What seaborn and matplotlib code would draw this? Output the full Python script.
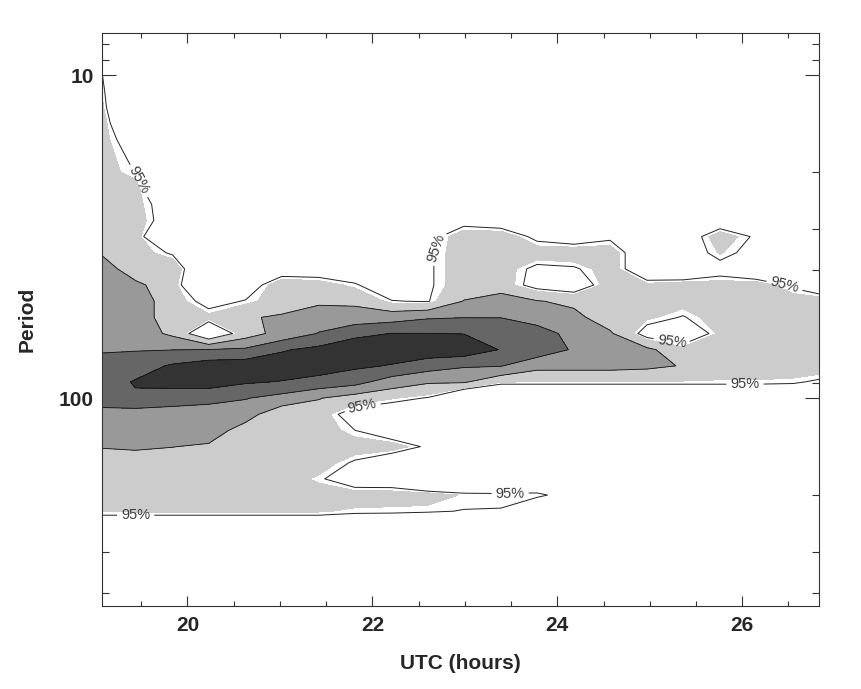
import numpy as np
import matplotlib
matplotlib.use("Agg")
import matplotlib.pyplot as plt
from matplotlib.ticker import FixedLocator, FixedFormatter, NullFormatter
import seaborn as sns

# ---------------- data ----------------
# sample times (UTC hours) of the wavelet power grid
utc_hours = [19.05, 19.44, 19.84, 20.23, 20.63, 21.02, 21.42, 21.81, 22.21, 22.60,
             22.99, 23.39, 23.78, 24.18, 24.57, 24.97, 25.36, 25.76, 26.15, 26.55, 26.94]
# sample periods, as log10(period)
log10_period = [0.85, 0.90, 0.95, 1.00, 1.05, 1.10, 1.15, 1.20, 1.25, 1.30,
                1.35, 1.40, 1.45, 1.50, 1.55, 1.60, 1.65, 1.70, 1.75, 1.80,
                1.85, 1.90, 1.95, 2.00, 2.05, 2.10, 2.15, 2.20, 2.25, 2.30,
                2.35, 2.40, 2.45, 2.50, 2.55, 2.60, 2.65]
# normalised wavelet power (power / 95% significance level); one list per time sample,
# values ordered from the shortest to the longest period
power_by_time = [
    [0.5, 0.5, 0.6, 1.17, 1.33, 1.47, 1.64, 1.48, 1.5, 1.5, 1.5, 1.5, 1.5, 1.5, 1.97, 2.5, 2.5, 2.5, 2.5, 2.5, 2.87, 3.5, 3.43, 3.64, 2.5, 2.5, 2.05, 1.5, 1.5, 1.5, 1.22, 0.3, 0.5, 0.5, 0.5, 0.5, 0.5],
    [0.5, 0.5, 0.5, -1.0, -1.0, -1.0, -0.5, 0.48, 0.8, 0.98, 1.47, 1.38, 1.48, 1.56, 1.5, 1.5, 2.2, 2.5, 2.5, 2.5, 2.95, 3.5, 4.1, 3.82, 2.5, 2.5, 2.14, 1.5, 1.5, 1.5, 1.25, 0.2, 0.5, 0.5, 0.5, 0.5, 0.5],
    [0.5, 0.5, 0.5, 0.5, 0.5, 0.5, 0.5, 0.5, 0.5, 0.5, -1.0, 0.5, 0.5, -1.0, 0.89, 1.74, 1.47, 1.5, 1.5, 1.81, 2.98, 4.13, 4.31, 3.5, 2.5, 2.5, 2.02, 1.5, 1.5, 1.5, 1.25, 0.2, 0.5, 0.5, 0.5, 0.5, 0.5],
    [0.5, 0.5, 0.5, 0.5, 0.5, 0.5, 0.5, 0.5, 0.5, 0.5, 0.5, 0.5, 0.5, 0.5, 0.5, -0.5, -0.5, 0.71, 1.35, 0.0, 3.02, 4.55, 4.44, 3.29, 2.5, 2.5, 1.87, 1.5, 1.5, 1.5, 1.25, 0.2, 0.5, 0.5, 0.5, 0.5, 0.5],
    [0.5, 0.5, 0.5, 0.5, 0.5, 0.5, 0.5, 0.5, 0.5, 0.5, 0.5, 0.5, 0.5, 0.5, 0.5, 0.5, 0.5, 1.05, 1.9, 1.55, 3.16, 4.6, 4.1, 3.05, 2.4, 1.57, 1.5, 1.5, 1.5, 1.5, 1.25, 0.2, 0.5, 0.5, 0.5, 0.5, 0.5],
    [0.5, 0.5, 0.5, 0.5, 0.5, 0.5, 0.5, 0.5, 0.5, 0.5, 0.5, 0.5, 0.5, 0.5, 0.5, 0.5, 1.61, 1.5, 2.13, 2.37, 3.9, 4.57, 3.95, 2.63, 1.3, 1.5, 1.5, 1.5, 1.5, 1.5, 1.25, 0.2, 0.5, 0.5, 0.5, 0.5, 0.5],
    [0.5, 0.5, 0.5, 0.5, 0.5, 0.5, 0.5, 0.5, 0.5, 0.5, 0.5, 0.5, 0.5, 0.5, 0.5, 0.5, 1.48, 1.81, 2.6, 3.04, 4.27, 4.5, 3.64, 2.05, 1.5, 1.5, 1.5, 1.5, 1.1, 1.5, 1.25, 0.2, 0.5, 0.5, 0.5, 0.5, 0.5],
    [0.5, 0.5, 0.5, 0.5, 0.5, 0.5, 0.5, 0.5, 0.5, 0.5, 0.5, 0.5, 0.5, 0.5, 0.5, 0.5, 1.07, 1.8, 2.47, 3.7, 4.77, 4.17, 3.34, 1.55, 0.57, 1.01, 1.5, 0.9, 0.5, 1.48, 1.12, 0.2, 0.5, 0.5, 0.5, 0.5, 0.5],
    [0.5, 0.5, 0.5, 0.5, 0.5, 0.5, 0.5, 0.5, 0.5, 0.5, 0.5, 0.5, 0.5, 0.5, 0.5, 0.5, 0.5, 1.03, 2.59, 4.02, 4.5, 3.94, 2.5, 1.25, 0.3, 0.41, 1.5, 0.25, 0.5, 1.45, 1.1, 0.2, 0.5, 0.5, 0.5, 0.5, 0.5],
    [0.5, 0.5, 0.5, 0.5, 0.5, 0.5, 0.5, 0.5, 0.5, 0.5, 0.5, 0.5, 0.5, 0.7, 0.9, 0.9, 0.9, 0.95, 2.9, 4.01, 4.6, 3.44, 2.1, 0.95, 0.5, 0.5, 0.87, 0.5, -0.35, 1.45, 1.05, 0.2, 0.5, 0.5, 0.5, 0.5, 0.5],
    [0.5, 0.5, 0.5, 0.5, 0.5, 0.5, 0.5, 0.5, 0.5, 0.5, 0.5, 0.5, 0.7, 1.56, 1.5, 1.5, 1.5, 2.04, 2.98, 3.98, 4.6, 3.1, 2.1, -0.4, 0.5, 0.5, 0.5, 0.5, -0.1, 1.15, 0.98, 0.5, 0.5, 0.5, 0.5, 0.5, 0.5],
    [0.5, 0.5, 0.5, 0.5, 0.5, 0.5, 0.5, 0.5, 0.5, 0.5, 0.5, 0.5, 0.5, 1.56, 1.5, 1.5, 1.5, 2.5, 2.98, 3.7, 3.95, 3.05, 1.24, -0.6, 0.5, 0.5, 0.5, 0.5, -0.1, 1.12, 0.97, 0.5, 0.5, 0.5, 0.5, 0.5, 0.5],
    [0.5, 0.5, 0.5, 0.5, 0.5, 0.5, 0.5, 0.5, 0.5, 0.5, 0.5, 0.5, 0.5, 0.81, 1.5, 0.8, 0.7, 2.05, 2.5, 3.54, 3.6, 2.3, 1.15, 0.0, 0.5, 0.5, 0.5, 0.5, 0.5, 1.08, 0.5, 0.5, 0.5, 0.5, 0.5, 0.5, 0.5],
    [0.5, 0.5, 0.5, 0.5, 0.5, 0.5, 0.5, 0.5, 0.5, 0.5, 0.5, 0.5, 0.5, 0.5, 1.59, 0.9, 0.39, 1.81, 2.25, 2.6, 2.89, 2.3, 1.15, 0.0, 0.5, 0.5, 0.5, 0.5, 0.5, 0.8, 0.5, 0.5, 0.5, 0.5, 0.5, 0.5, 0.5],
    [0.5, 0.5, 0.5, 0.5, 0.5, 0.5, 0.5, 0.5, 0.5, 0.5, 0.5, 0.5, 0.5, 0.86, 1.5, 1.5, 1.5, 1.5, 1.5, 2.13, 2.5, 2.3, 1.15, 0.0, 0.5, 0.5, 0.5, 0.5, 0.5, 0.5, 0.5, 0.5, 0.5, 0.5, 0.5, 0.5, 0.5],
    [0.5, 0.5, 0.5, 0.5, 0.5, 0.5, 0.5, 0.5, 0.5, 0.5, 0.5, 0.5, 0.5, 0.5, 0.28, 0.28, 1.32, 1.5, 1.3, 0.63, 2.2, 2.2, 1.15, 0.0, 0.5, 0.5, 0.5, 0.5, 0.5, 0.5, 0.5, 0.5, 0.5, 0.5, 0.5, 0.5, 0.5],
    [0.5, 0.5, 0.5, 0.5, 0.5, 0.5, 0.5, 0.5, 0.5, 0.5, 0.5, 0.5, 0.5, 0.5, 0.5, 0.0, 1.5, 1.4, 0.95, 0.3, 1.4, 1.95, 1.15, 0.0, 0.5, 0.5, 0.5, 0.5, 0.5, 0.5, 0.5, 0.5, 0.5, 0.5, 0.5, 0.5, 0.5],
    [0.5, 0.5, 0.5, 0.5, 0.5, 0.5, 0.5, 0.5, 0.5, 0.5, 0.5, 0.5, 0.5, 1.5, 1.25, 0.7, 1.4, 1.5, 1.5, 1.3, 1.5, 1.5, 1.15, 0.0, 0.5, 0.5, 0.5, 0.5, 0.5, 0.5, 0.5, 0.5, 0.5, 0.5, 0.5, 0.5, 0.5],
    [0.5, 0.5, 0.5, 0.5, 0.5, 0.5, 0.5, 0.5, 0.5, 0.5, 0.5, 0.5, 0.5, 0.9, 0.7, 0.15, 1.5, 1.5, 1.5, 1.5, 1.5, 1.5, 1.15, 0.0, 0.5, 0.5, 0.5, 0.5, 0.5, 0.5, 0.5, 0.5, 0.5, 0.5, 0.5, 0.5, 0.5],
    [0.5, 0.5, 0.5, 0.5, 0.5, 0.5, 0.5, 0.5, 0.5, 0.5, 0.5, 0.5, 0.5, 0.5, 0.5, 0.5, 0.88, 1.5, 1.5, 1.5, 1.5, 1.5, 1.1, 0.0, 0.5, 0.5, 0.5, 0.5, 0.5, 0.5, 0.5, 0.5, 0.5, 0.5, 0.5, 0.5, 0.5],
    [0.5, 0.5, 0.5, 0.5, 0.5, 0.5, 0.5, 0.5, 0.5, 0.5, 0.5, 0.5, 0.5, 0.5, 0.5, 0.5, 0.0, 1.5, 1.5, 1.5, 1.5, 1.5, 0.79, 0.5, 0.5, 0.5, 0.5, 0.5, 0.5, 0.5, 0.5, 0.5, 0.5, 0.5, 0.5, 0.5, 0.5],
]
significance_level = [1.0]                  # 95% confidence contour
shade_levels = [1.2, 2.0, 3.0, 4.0, 10.0]   # filled power bands
edge_levels = [2.0, 3.0, 4.0]
# where the "95%" labels sit (UTC hours, period)
label_time = [19.49, 22.62, 26.46, 25.25, 26.03, 21.89, 23.49, 19.44]
label_period = [21.1, 33.6, 44.7, 64.3, 88.5, 105.0, 197.0, 229.0]
x_major_ticks = [20, 22, 24, 26]
x_minor_ticks = [19.5, 20.5, 21.0, 21.5, 22.5, 23.0, 23.5, 24.5, 25.0, 25.5, 26.5]
y_major_ticks = [10, 100]
y_major_labels = ["10", "100"]
y_minor_ticks = [8, 9, 20, 30, 40, 50, 60, 70, 80, 90, 200, 300, 400]

# ---------------- style ----------------
shade_colors = ["#cccccc", "#999999", "#666666", "#333333"]

sns.set_theme(style="ticks")
plt.rcParams["font.family"] = ["Liberation Sans", "DejaVu Sans"]

fig = plt.figure(figsize=(8.62, 6.89), dpi=100)
ax = fig.add_axes([102 / 862, 1 - 606 / 689, 717 / 862, 573 / 689])
ax.set_facecolor("white")
ax.set_yscale("log")
ax.set_xlim(19.076, 26.83)
ax.set_ylim(440, 7.41)

T, P = np.meshgrid(np.array(utc_hours), 10.0 ** np.array(log10_period))
Z = np.array(power_by_time).T

ax.contourf(T, P, Z, levels=shade_levels, colors=shade_colors)
ax.contour(T, P, Z, levels=edge_levels, colors="#111111", linewidths=0.6)
cs = ax.contour(T, P, Z, levels=significance_level, colors="#222222", linewidths=0.7)
ax.clabel(cs, fmt={cs.levels[0]: "95%"}, manual=list(zip(label_time, label_period)),
          inline=True, inline_spacing=4, fontsize=10.5, colors="#3a3a3a")

ax.xaxis.set_major_locator(FixedLocator(x_major_ticks))
ax.xaxis.set_minor_locator(FixedLocator(x_minor_ticks))
ax.yaxis.set_major_locator(FixedLocator(y_major_ticks))
ax.yaxis.set_major_formatter(FixedFormatter(y_major_labels))
ax.yaxis.set_minor_locator(FixedLocator(y_minor_ticks))
ax.yaxis.set_minor_formatter(NullFormatter())

ax.tick_params(which="both", direction="in", top=True, right=True, width=0.8,
               color="#333333")
ax.tick_params(axis="x", which="major", length=7.5, pad=7, labelsize=15)
ax.tick_params(axis="x", which="minor", length=3.8)
ax.tick_params(axis="y", which="major", length=10, pad=6, labelsize=15)
ax.tick_params(axis="y", which="minor", length=5)
for lab in ax.get_xticklabels() + ax.get_yticklabels():
    lab.set_fontweight("bold")

ax.set_xlabel("UTC (hours)", fontsize=15, fontweight="bold", labelpad=14)
ax.set_ylabel("Period", fontsize=15, fontweight="bold", labelpad=16)
for s in ax.spines.values():
    s.set_visible(True)
    s.set_linewidth(0.8)
    s.set_color("#333333")

fig.savefig("out.png", dpi=100)
